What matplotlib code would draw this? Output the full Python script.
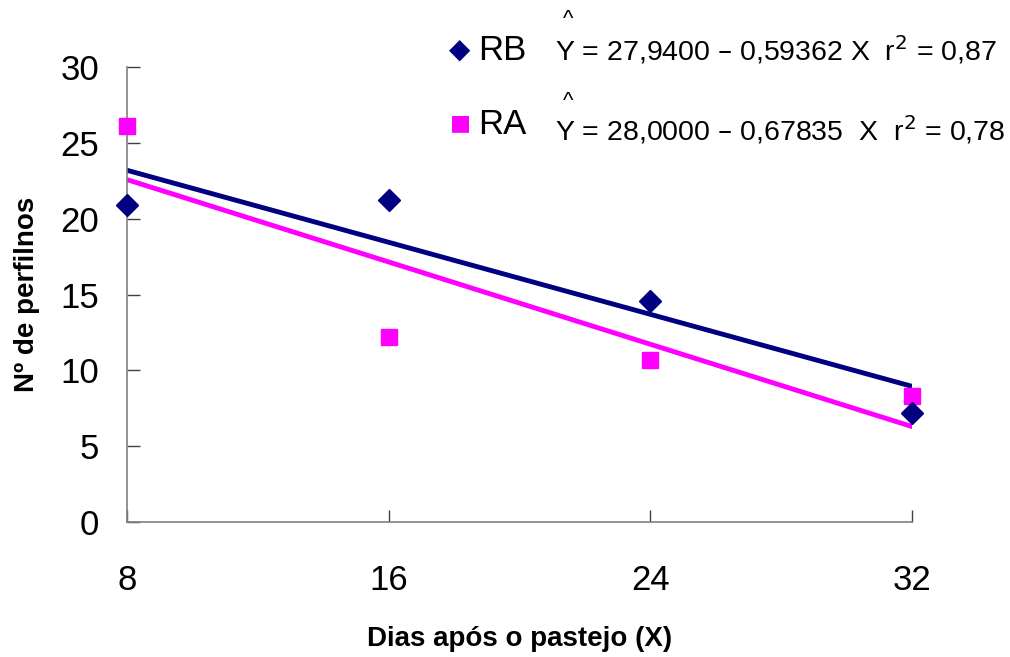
import numpy as np
import matplotlib.pyplot as plt

plt.rcParams['font.family'] = ['Liberation Sans', 'DejaVu Sans']

# dados
dias = [8, 16, 24, 32]
rb = [20.9, 21.2, 14.6, 7.2]
ra = [26.1, 12.2, 10.7, 8.3]
# equações de regressão (do próprio gráfico)
rb_coef = (27.9400, -0.59362)
ra_coef = (28.0000, -0.67835)
rb_eq = "Y = 27,9400 – 0,59362 X  r$^2$ = 0,87"
ra_eq = "Y = 28,0000 – 0,67835  X  r$^2$ = 0,78"

navy = "#000080"
mag = "#FF00FF"

fig = plt.figure(figsize=(10.1, 6.57), dpi=100)
ax = fig.add_axes([127 / 1010, 135 / 657, 785 / 1010, 455 / 657])

x = np.array([dias[0], dias[-1]])
ax.plot(x, rb_coef[0] + rb_coef[1] * x, color=navy, lw=3.5, solid_capstyle="round", zorder=2)
ax.plot(x, ra_coef[0] + ra_coef[1] * x, color=mag, lw=3.5, solid_capstyle="round", zorder=2)
ax.plot(dias, ra, ls="none", marker="s", ms=11, color=mag, clip_on=False, zorder=3)
ax.plot(dias, rb, ls="none", marker="D", ms=11, color=navy, clip_on=False, zorder=4)

ax.set_xlim(8, 32)
ax.set_ylim(0, 30)
ax.set_xticks(dias)
ax.set_yticks(range(0, 31, 5))
for s in ["top", "right"]:
    ax.spines[s].set_visible(False)
for s in ["left", "bottom"]:
    ax.spines[s].set_color("#808080")
    ax.spines[s].set_linewidth(1.2)
ax.tick_params(axis="both", direction="in", length=9, width=1, color="#404040",
               labelsize=25)
ax.tick_params(axis="y", pad=20)
ax.tick_params(axis="x", pad=30)

ax.set_ylabel("Nº de perfilnos", fontsize=20, fontweight="bold")
ax.yaxis.set_label_coords(-87 / 785, 0.5)
ax.set_xlabel("Dias após o pastejo (X)", fontsize=20, fontweight="bold")
ax.xaxis.set_label_coords(0.5, -104 / 455)

# legenda manual
fig.text(460 / 1010, 1 - 50 / 657, "◆", color=navy, fontsize=20, ha="center", va="center",
         family="DejaVu Sans")
fig.text(478 / 1010, 1 - 50 / 657, "RB", fontsize=25, va="center")
fig.text(460 / 1010, 1 - 123 / 657, "■", color=mag, fontsize=16, ha="center", va="center",
         family="DejaVu Sans")
fig.text(478 / 1010, 1 - 125 / 657, "RA", fontsize=25, va="center")

fig.text(555 / 1010, 1 - 50 / 657, rb_eq, fontsize=20.5, va="center")
fig.text(555 / 1010, 1 - 130 / 657, ra_eq, fontsize=20.5, va="center")
fig.text(568 / 1010, 1 - 19 / 657, "^", fontsize=16, ha="center", va="center")
fig.text(568 / 1010, 1 - 101 / 657, "^", fontsize=16, ha="center", va="center")

fig.savefig("out.png", dpi=100)
